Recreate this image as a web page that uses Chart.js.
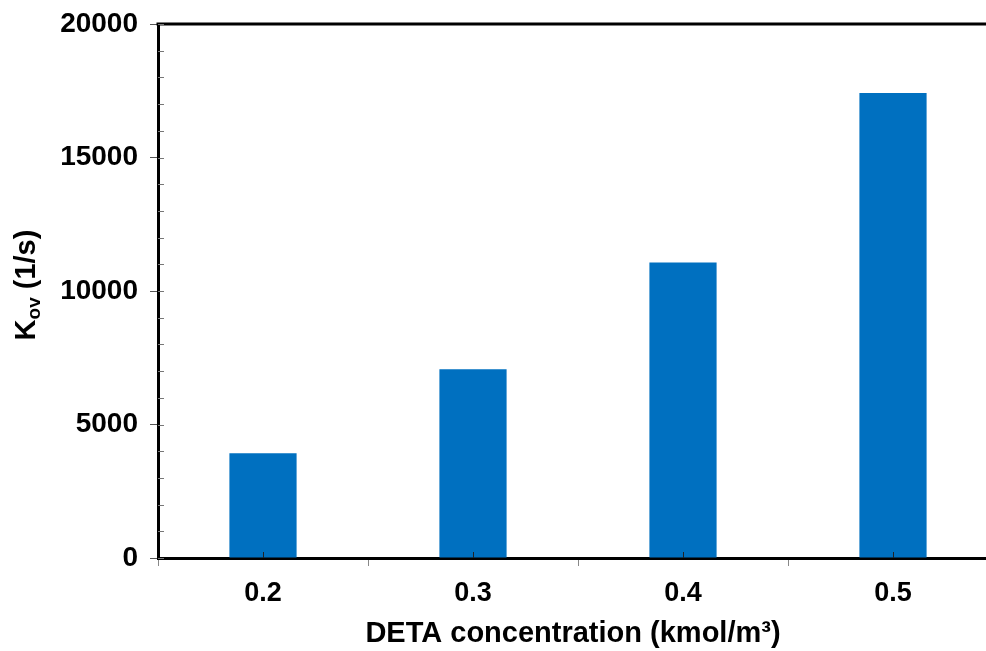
<!DOCTYPE html>
<html>
<head>
<meta charset="utf-8">
<script src="https://cdn.jsdelivr.net/npm/chart.js@4/dist/chart.umd.min.js"></script>
<style>
  html, body { margin: 0; padding: 0; background: #fff; overflow: hidden; }
  #wrap { width: 986px; height: 651px; overflow: hidden; }
</style>
</head>
<body>
<div id="wrap"><canvas id="kovChart" width="1000" height="651"></canvas></div>
<script>
// 데이터
var concentrations = ['0.2', '0.3', '0.4', '0.5'];
var kovValues = [3920, 7070, 11070, 17420];
var yTicks = [0, 5000, 10000, 15000, 20000];
var yMinorStep = 1000;

var FONT = '"Liberation Sans", Arial, sans-serif';
var barColor = '#0070C0';

// 축 주변 장식: 위쪽 테두리, 보조 눈금, 축 제목
var decorPlugin = {
    id: 'decor',
    afterDraw: function(chart) {
        var ctx = chart.ctx;
        var area = chart.chartArea;
        var xs = chart.scales.x;
        var ys = chart.scales.y;
        ctx.save();

        // 위쪽 테두리
        ctx.strokeStyle = '#000';
        ctx.lineWidth = 3;
        ctx.beginPath();
        ctx.moveTo(area.left - 1.5, area.top);
        ctx.lineTo(chart.width, area.top);
        ctx.stroke();

        // y축 보조 눈금 (안쪽)
        ctx.strokeStyle = '#777';
        ctx.lineWidth = 1;
        ctx.beginPath();
        for (var v = 0; v <= yTicks[yTicks.length - 1]; v += yMinorStep) {
            var py = Math.round(ys.getPixelForValue(v)) + 0.5;
            ctx.moveTo(area.left, py);
            ctx.lineTo(area.left + 6, py);
        }
        ctx.stroke();

        // x축 카테고리 중앙 눈금 (안쪽)
        ctx.strokeStyle = '#222';
        ctx.beginPath();
        concentrations.forEach(function(c, i) {
            var px = Math.round(xs.getPixelForValue(i)) + 0.5;
            ctx.moveTo(px, area.bottom);
            ctx.lineTo(px, area.bottom - 6);
        });
        ctx.stroke();

        // x축 제목
        ctx.fillStyle = '#000';
        ctx.textAlign = 'center';
        ctx.textBaseline = 'alphabetic';
        ctx.font = 'bold 29px ' + FONT;
        var midX = (xs.getPixelForValue(1) + xs.getPixelForValue(2)) / 2 - 5;
        ctx.fillText('DETA concentration (kmol/m\u00B3)', midX, 642);

        // y축 제목: K + 아래첨자 ov + (1/s)
        var big = 'bold 29px ' + FONT;
        var small = 'bold 19px ' + FONT;
        ctx.font = big;
        var wK = ctx.measureText('K').width;
        var wRest = ctx.measureText(' (1/s)').width;
        ctx.font = small;
        var wSub = ctx.measureText('ov').width;
        var total = wK + wSub + wRest;
        ctx.translate(35, 285);
        ctx.rotate(-Math.PI / 2);
        ctx.textAlign = 'left';
        var sx = -total / 2;
        ctx.font = big;
        ctx.fillText('K', sx, 0);
        ctx.font = small;
        ctx.fillText('ov', sx + wK, 5);
        ctx.font = big;
        ctx.fillText(' (1/s)', sx + wK + wSub, 0);

        ctx.restore();
    }
};

var ctx = document.getElementById('kovChart').getContext('2d');
var kovChart = new Chart(ctx, {
    type: 'bar',
    data: {
        labels: concentrations,
        datasets: [{
            data: kovValues,
            backgroundColor: barColor,
            borderWidth: 0,
            categoryPercentage: 1.0,
            barPercentage: 0.32
        }]
    },
    options: {
        responsive: false,
        animation: false,
        devicePixelRatio: 1,
        layout: { padding: { top: 24, right: 2, left: 0, bottom: 0 } },
        plugins: {
            legend: { display: false },
            tooltip: { enabled: false }
        },
        scales: {
            x: {
                grid: {
                    offset: true,
                    drawOnChartArea: false,
                    drawTicks: true,
                    tickLength: 8,
                    tickColor: '#888',
                    tickWidth: 1
                },
                border: { display: true, color: '#000', width: 3 },
                ticks: {
                    color: '#000',
                    padding: 11,
                    font: { family: FONT, size: 27, weight: 'bold' }
                },
                afterFit: function(scale) {
                    scale.height = 93;
                    scale.paddingLeft = 0;
                    scale.paddingRight = 0;
                }
            },
            y: {
                min: 0,
                max: 20000,
                afterBuildTicks: function(scale) {
                    scale.ticks = yTicks.map(function(v) { return { value: v }; });
                },
                grid: {
                    drawOnChartArea: false,
                    drawTicks: true,
                    tickLength: 8,
                    tickColor: '#555',
                    tickWidth: 1
                },
                border: { display: true, color: '#000', width: 3 },
                ticks: {
                    color: '#000',
                    padding: 12,
                    font: { family: FONT, size: 28, weight: 'bold' },
                    callback: function(value) { return String(value); }
                },
                afterFit: function(scale) {
                    scale.width = 158;
                    scale.paddingTop = 0;
                    scale.paddingBottom = 0;
                }
            }
        }
    },
    plugins: [decorPlugin]
});
</script>
</body>
</html>
